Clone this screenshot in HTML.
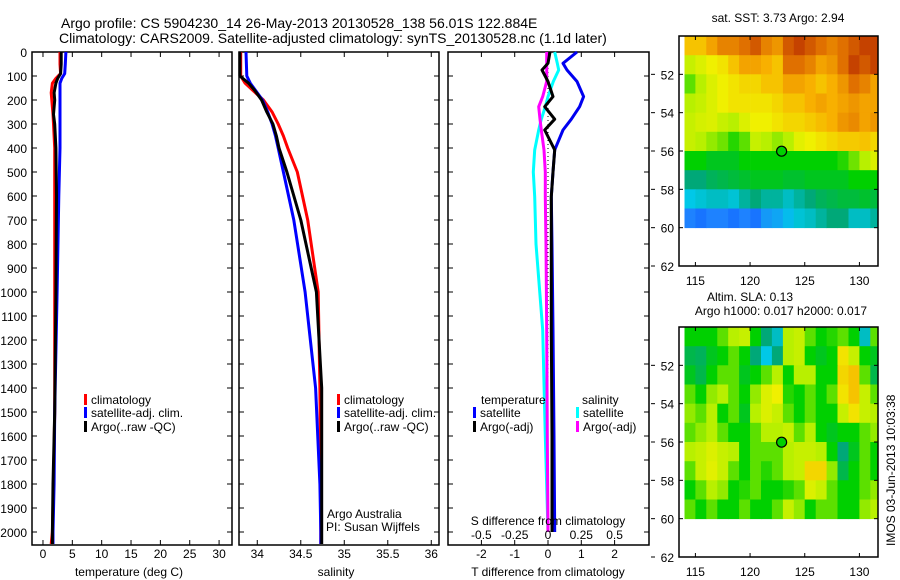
<!DOCTYPE html>
<html><head><meta charset="utf-8">
<style>
html,body{margin:0;padding:0;background:#fff;}
svg{display:block;font-family:"Liberation Sans",sans-serif;}
</style></head>
<body>
<svg id="fig" width="900" height="580" viewBox="0 0 900 580" xmlns="http://www.w3.org/2000/svg">
<text x="61" y="28" font-size="14">Argo profile: CS 5904230_14 26-May-2013 20130528_138 56.01S 122.884E</text>
<text x="59" y="43" font-size="14">Climatology: CARS2009. Satellite-adjusted climatology: synTS_20130528.nc (1.1d later)</text>
<g id="g"></g>
</svg>
<script>
// ---- depth grids and series ----
const tDepth=[0,50,90,110,130,170,200,260,300,400,600,1000,1500,1800,2000,2050];
const tClim =[2.9,2.9,3.0,2.2,1.6,1.4,1.5,1.7,1.8,2.0,2.0,2.0,2.0,1.8,1.6,1.4];
const tSat  =[3.9,3.8,3.7,3.2,2.9,2.9,2.9,2.9,2.9,2.9,2.7,2.4,2.0,1.9,1.7,1.7];
const tArgo =[3.1,3.1,3.0,2.5,2.2,1.9,2.0,1.8,2.0,2.2,2.3,2.2,2.0,1.7,1.6,1.6];
const sDepth=[0,100,130,160,200,250,300,350,400,500,700,1000,1400,1800,2000,2050];
const sClim =[33.81,33.81,33.86,33.95,34.07,34.17,34.24,34.30,34.35,34.46,34.58,34.70,34.72,34.73,34.73,34.73];
const sArgo =[33.80,33.80,33.90,33.97,34.05,34.11,34.18,34.22,34.25,34.34,34.50,34.68,34.74,34.74,34.74,34.74];
const sSat  =[33.87,33.88,33.92,33.98,34.06,34.12,34.17,34.21,34.24,34.30,34.42,34.55,34.67,34.72,34.73,34.73];
const dDepth=[0,47,75,123,186,228,280,325,408,500,603,800,1158,1600,2000];
const dTsat =[0.87,0.45,0.57,0.87,1.07,0.95,0.7,0.45,0.2,0.15,0.1,0.12,0.15,0.18,0.2];
const dTargo=[0.06,0.0,-0.18,0.0,0.15,-0.1,0.2,-0.1,0.2,0.15,0.1,0.1,0.1,0.12,0.12];
const dSsat =[0.05,0.07,0.08,0.04,0.0,-0.02,-0.05,-0.07,-0.1,-0.11,-0.1,-0.09,-0.04,-0.02,0.0];
const dSargo=[-0.01,-0.01,-0.01,-0.01,-0.04,-0.07,-0.06,-0.05,-0.03,-0.02,-0.02,-0.015,-0.01,-0.005,0.0];
const depthTicks=[0,100,200,300,400,500,600,700,800,900,1000,1100,1200,1300,1400,1500,1600,1700,1800,1900,2000];
const tTicks=[0,5,10,15,20,25,30];
const sTicks=[34,34.5,35,35.5,36];
const sTickLabels=["34","34.5","35","35.5","36"];
const dTTicks=[-2,-1,0,1,2];
const dSTicks=[-0.5,-0.25,0,0.25,0.5];
const dSTickLabels=["-0.5","-0.25","0","0.25","0.5"];
// maps: 1-degree cells, lon 114..131, lat -50..-59 (row 0 = -50)
const mapLons=[114,115,116,117,118,119,120,121,122,123,124,125,126,127,128,129,130,131];
const mapLats=[-50,-51,-52,-53,-54,-55,-56,-57,-58,-59];
const sstVals=[
[0.75,0.75,0.8,0.85,0.85,0.88,0.9,0.85,0.82,0.9,0.92,0.9,0.88,0.85,0.88,0.9,0.92,0.92],
[0.62,0.65,0.68,0.7,0.75,0.8,0.8,0.78,0.75,0.88,0.88,0.85,0.8,0.82,0.88,0.92,0.9,0.92],
[0.55,0.6,0.65,0.68,0.7,0.72,0.72,0.75,0.75,0.8,0.8,0.78,0.75,0.78,0.82,0.88,0.85,0.8],
[0.6,0.62,0.65,0.68,0.7,0.7,0.7,0.7,0.72,0.75,0.75,0.78,0.8,0.78,0.8,0.82,0.8,0.8],
[0.62,0.64,0.65,0.62,0.6,0.65,0.68,0.68,0.7,0.72,0.72,0.74,0.76,0.78,0.82,0.84,0.8,0.82],
[0.62,0.6,0.58,0.56,0.52,0.55,0.62,0.6,0.58,0.6,0.66,0.68,0.7,0.72,0.74,0.74,0.75,0.72],
[0.5,0.5,0.48,0.48,0.48,0.5,0.5,0.5,0.5,0.5,0.5,0.5,0.5,0.5,0.52,0.56,0.6,0.65],
[0.42,0.42,0.44,0.45,0.46,0.47,0.48,0.48,0.48,0.47,0.47,0.48,0.48,0.48,0.48,0.5,0.5,0.5],
[0.36,0.37,0.38,0.38,0.37,0.4,0.42,0.4,0.4,0.38,0.4,0.42,0.44,0.45,0.46,0.46,0.47,0.46],
[0.3,0.28,0.3,0.3,0.28,0.3,0.28,0.32,0.33,0.35,0.37,0.38,0.4,0.42,0.42,0.38,0.38,0.4]];
const slaVals=[
[0.5,0.5,0.5,0.55,0.6,0.62,0.5,0.42,0.38,0.6,0.62,0.55,0.5,0.52,0.55,0.5,0.38,0.55],
[0.45,0.44,0.48,0.5,0.55,0.5,0.42,0.36,0.42,0.6,0.62,0.5,0.48,0.5,0.7,0.62,0.5,0.48],
[0.48,0.45,0.5,0.55,0.55,0.48,0.5,0.55,0.6,0.5,0.6,0.6,0.5,0.5,0.72,0.75,0.55,0.45],
[0.55,0.5,0.58,0.6,0.55,0.5,0.58,0.65,0.68,0.52,0.5,0.55,0.5,0.55,0.7,0.75,0.62,0.55],
[0.58,0.55,0.6,0.5,0.55,0.48,0.6,0.65,0.62,0.55,0.5,0.55,0.5,0.5,0.62,0.7,0.62,0.6],
[0.55,0.58,0.6,0.55,0.5,0.5,0.55,0.6,0.6,0.62,0.55,0.6,0.5,0.48,0.5,0.5,0.55,0.58],
[0.6,0.62,0.65,0.62,0.6,0.5,0.55,0.55,0.55,0.6,0.62,0.62,0.6,0.5,0.42,0.48,0.55,0.5],
[0.55,0.62,0.66,0.62,0.55,0.5,0.55,0.52,0.55,0.6,0.62,0.72,0.72,0.58,0.45,0.5,0.55,0.5],
[0.5,0.55,0.6,0.58,0.5,0.52,0.55,0.5,0.5,0.52,0.55,0.65,0.62,0.55,0.5,0.5,0.55,0.58],
[0.55,0.5,0.55,0.5,0.5,0.55,0.5,0.5,0.55,0.62,0.58,0.5,0.55,0.55,0.5,0.5,0.58,0.6]];
const lonTicks=[115,120,125,130];
const latTicks=[-52,-54,-56,-58,-60,-62];
const latTickLabels=["52","54","56","58","60","62"];
const floatLon=122.884, floatLat=-56.01;

const NS="http://www.w3.org/2000/svg";
const G=document.getElementById('g');
function el(tag,attrs,parent){const e=document.createElementNS(NS,tag);for(const k in attrs)e.setAttribute(k,attrs[k]);(parent||G).appendChild(e);return e;}
function txt(x,y,s,size,anchor,parent){const t=el('text',{x:x,y:y,'font-size':size||12,'text-anchor':anchor||'start'},parent);t.textContent=s;return t;}

const PT=52,bot=545;
const yD=d=>PT+d*0.24;
const xT=v=>32+(v+1.87)*5.87;
const xS=v=>239+(v-33.79)*87;
const xDT=v=>548+v*33.3;
const xDS=v=>548+v*133.2;

function frame(x0,x1,name){
  const r=el('rect',{x:x0,y:PT,width:x1-x0,height:bot-PT,fill:'none',stroke:'#000','stroke-width':1.5});
  
  
}
function profile(depths,vals,xf,color,name,w){
  const pts=depths.map((d,i)=>xf(vals[i]).toFixed(1)+','+yD(d).toFixed(1)).join(' ');
  const p=el('polyline',{points:pts,fill:'none',stroke:color,'stroke-width':w||3,'stroke-linejoin':'round'});
  
  
}
function xticks(x0,x1,ticks,xf,labels,ly){
  ticks.forEach((t,i)=>{const x=xf(t);
    el('line',{x1:x,y1:bot,x2:x,y2:bot-5,stroke:'#000'});
    el('line',{x1:x,y1:PT,x2:x,y2:PT+5,stroke:'#000'});
    if(labels){const l=txt(x,ly,labels[i],12,'middle');
      
      }
  });
}
function yticks(x0,x1){depthTicks.forEach(d=>{const y=yD(d);
  el('line',{x1:x0,y1:y,x2:x0+5,y2:y,stroke:'#000'});
  el('line',{x1:x1,y1:y,x2:x1-5,y2:y,stroke:'#000'});});}
function legendItem(x,y,color,label,name){
  const g=el('g',{});
  
  
  el('rect',{x:x,y:y-10,width:3,height:11,fill:color},g);
  txt(x+7,y,label,12,'start',g);
}

// Panel 1: temperature
frame(32,232,'temperature-panel');
depthTicks.forEach(d=>{const l=txt(27,yD(d)+5,String(d),12,'end');
  
  });
yticks(32,232);
xticks(32,232,tTicks,xT,tTicks.map(String),558);
profile(tDepth,tClim,xT,'#f00','temp-climatology-line');
profile(tDepth,tSat,xT,'#00f','temp-satellite-line');
profile(tDepth,tArgo,xT,'#000','temp-argo-line');
legendItem(84,404,'#f00','climatology','temp-legend-climatology');
legendItem(84,417,'#00f','satellite-adj. clim.','temp-legend-satellite');
legendItem(84,431,'#000','Argo(..raw -QC)','temp-legend-argo');
txt(129,576,'temperature (deg C)',12,'middle');

// Panel 2: salinity
frame(239,439,'salinity-panel');
yticks(239,439);
xticks(239,439,sTicks,xS,sTickLabels,558);
profile(sDepth,sClim,xS,'#f00','sal-climatology-line');
profile(sDepth,sSat,xS,'#00f','sal-satellite-line');
profile(sDepth,sArgo,xS,'#000','sal-argo-line');
legendItem(337,404,'#f00','climatology','sal-legend-climatology');
legendItem(337,417,'#00f','satellite-adj. clim.','sal-legend-satellite');
legendItem(337,431,'#000','Argo(..raw -QC)','sal-legend-argo');
txt(327,518,'Argo Australia',12);
txt(326,531,'PI: Susan Wijffels',12);
txt(336,576,'salinity',12,'middle');

// Panel 3: differences
frame(448,649,'difference-panel');
yticks(448,649);
xticks(448,649,dTTicks,xDT,dTTicks.map(String),558);
el('line',{x1:xDT(0),y1:PT,x2:xDT(0),y2:yD(2000),stroke:'#000','stroke-dasharray':'1,3'});
profile(dDepth,dSsat,xDS,'#0ff','sdiff-satellite-line');
profile(dDepth,dSargo,xDS,'#f0f','sdiff-argo-line');
profile(dDepth,dTsat,xDT,'#0000f0','tdiff-satellite-line');
profile(dDepth,dTargo,xDT,'#000','tdiff-argo-line');
txt(481,404,'temperature',12);
legendItem(473,417,'#00f','satellite','tdiff-legend-satellite');
legendItem(473,431,'#000','Argo(-adj)','tdiff-legend-argo');
txt(582,404,'salinity',12);
legendItem(576,417,'#0ff','satellite','sdiff-legend-satellite');
legendItem(576,431,'#f0f','Argo(-adj)','sdiff-legend-argo');
txt(548,525,'S difference from climatology',12,'middle');
dSTicks.forEach((t,i)=>{const l=txt(xDS(t),539,dSTickLabels[i],12,'middle');
  
  });
txt(548,576,'T difference from climatology',12,'middle');

// Maps
function colormap(v){
  const stops=[[0.2,[0,60,255]],[0.3,[30,130,255]],[0.36,[0,200,232]],[0.42,[0,168,120]],[0.5,[0,208,0]],[0.6,[184,240,0]],[0.68,[240,240,0]],[0.78,[248,176,0]],[0.88,[224,112,0]],[0.95,[176,32,0]]];
  if(v<=stops[0][0])return 'rgb('+stops[0][1]+')';
  for(let i=1;i<stops.length;i++){if(v<=stops[i][0]){const a=stops[i-1],b=stops[i],f=(v-a[0])/(b[0]-a[0]);
    return 'rgb('+a[1].map((c,k)=>Math.round(c+(b[1][k]-c)*f)).join(',')+')';}}
  return 'rgb('+stops[stops.length-1][1]+')';
}
function drawMap(mx0,mx1,my0,my1,vals,name){
  const lonA=113.5,lonB=131.7,latA=-50,latB=-62;
  const X=lo=>mx0+(lo-lonA)/(lonB-lonA)*(mx1-mx0);
  const Y=la=>my0+(la-latA)/(latB-latA)*(my1-my0);
  const g=el('g',{});
  
  
  vals.forEach((row,r)=>row.forEach((v,c)=>{
    const x0=Math.max(mx0,X(mapLons[c])),x1=Math.min(mx1,X(mapLons[c]+1));
    const y0=Y(mapLats[r]),y1=Y(mapLats[r]-1);
    const cell=el('rect',{x:x0.toFixed(1),y:y0.toFixed(1),width:(x1-x0+0.4).toFixed(1),height:(y1-y0+0.4).toFixed(1),fill:colormap(v)},g);
    
    
  }));
  el('rect',{x:mx0,y:my0,width:mx1-mx0,height:my1-my0,fill:'none',stroke:'#000','stroke-width':1.5},g);
  lonTicks.forEach(lo=>{const x=X(lo);
    el('line',{x1:x,y1:my1,x2:x,y2:my1-4,stroke:'#000'},g);
    el('line',{x1:x,y1:my0,x2:x,y2:my0+4,stroke:'#000'},g);
    txt(x,my1+19,String(lo),12,'middle',g);});
  latTicks.forEach((la,i)=>{const y=Y(la);
    el('line',{x1:mx0,y1:y,x2:mx0+4,y2:y,stroke:'#000'},g);
    el('line',{x1:mx1,y1:y,x2:mx1-4,y2:y,stroke:'#000'},g);
    el('line',{x1:651,y1:y,x2:655,y2:y,stroke:'#000'},g);
    txt(674,y+5,latTickLabels[i],12,'end',g);});
  const m=el('circle',{cx:X(floatLon),cy:Y(floatLat),r:5,fill:'#00d000',stroke:'#000','stroke-width':1.2},g);
  
  
}
txt(778,22,'sat. SST: 3.73 Argo: 2.94',12,'middle');
drawMap(679,878,36,266,sstVals,'sst-map');
txt(750,301,'Altim. SLA: 0.13',12,'middle');
txt(781,315,'Argo h1000: 0.017 h2000: 0.017',12,'middle');
drawMap(679,878,327,557,slaVals,'sla-map');
const ts=txt(0,0,'IMOS 03-Jun-2013 10:03:38',12,'start');
ts.setAttribute('transform','translate(895,546) rotate(-90)');


</script>
</body></html>
